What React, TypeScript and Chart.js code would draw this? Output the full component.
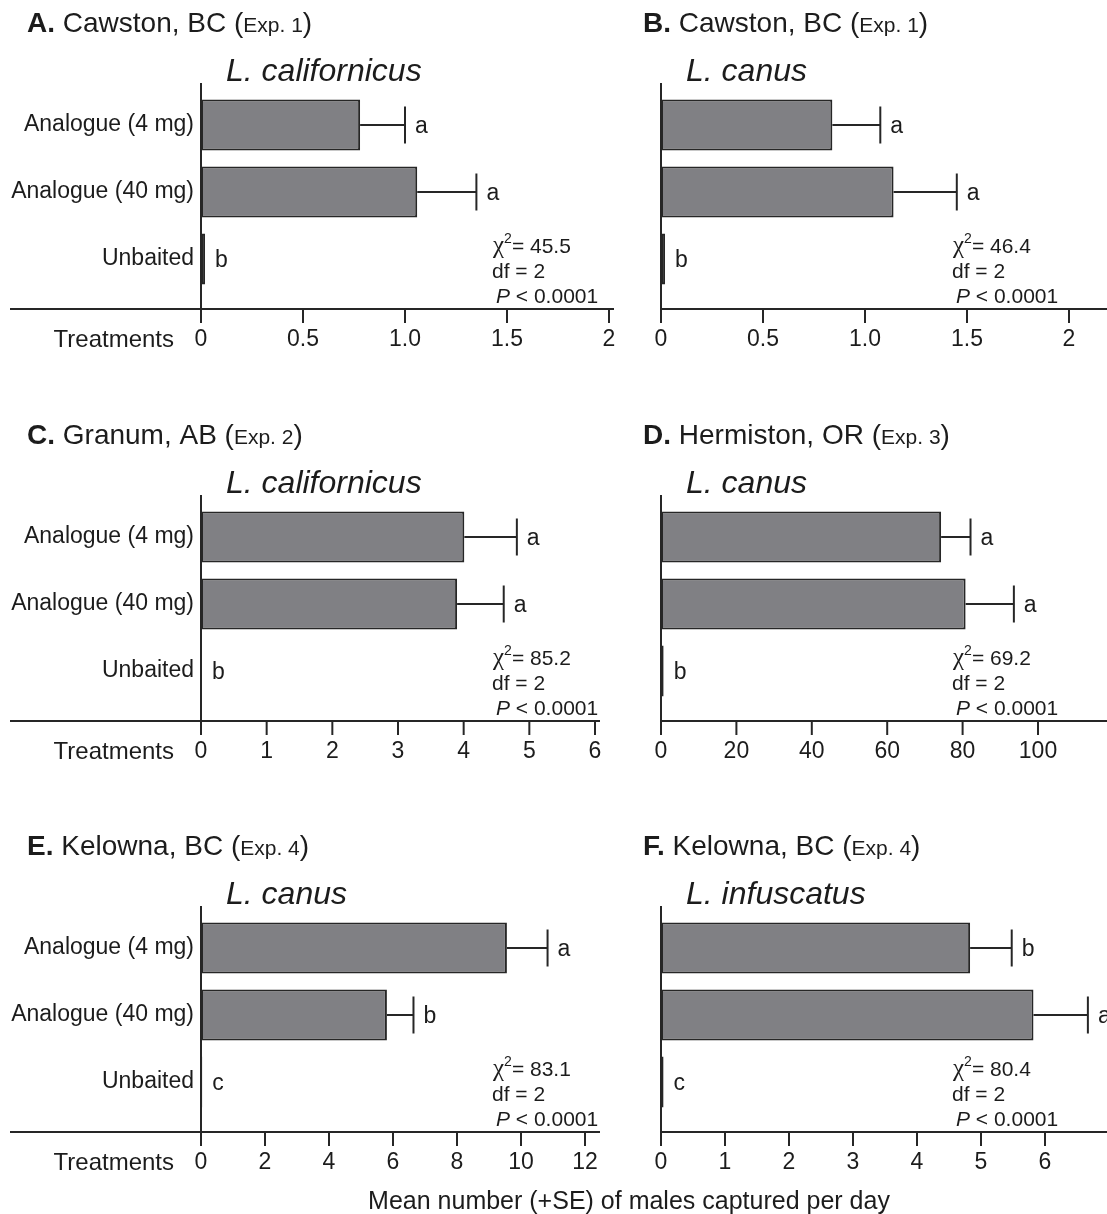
import { useEffect, useRef } from 'react';
import { Chart, registerables } from 'chart.js';

Chart.register(...registerables);

// ---------- data ----------
const treatments = ['Analogue (4 mg)', 'Analogue (40 mg)', 'Unbaited'];

// A. Cawston, BC (Exp. 1) – L. californicus
const meansA = [0.78, 1.06, 0.02];
const seA = [0.22, 0.29, 0];
const lettersA = ['a', 'a', 'b'];
const ticksA = ['0', '0.5', '1.0', '1.5', '2'];
const chiA = '45.5';

// B. Cawston, BC (Exp. 1) – L. canus
const meansB = [0.84, 1.14, 0.02];
const seB = [0.235, 0.31, 0];
const lettersB = ['a', 'a', 'b'];
const ticksB = ['0', '0.5', '1.0', '1.5', '2'];
const chiB = '46.4';

// C. Granum, AB (Exp. 2) – L. californicus
const meansC = [4.01, 3.9, 0.015];
const seC = [0.8, 0.71, 0];
const lettersC = ['a', 'a', 'b'];
const ticksC = ['0', '1', '2', '3', '4', '5', '6'];
const chiC = '85.2';

// D. Hermiston, OR (Exp. 3) – L. canus
const meansD = [74.3, 80.8, 0.7];
const seD = [7.8, 12.8, 0];
const lettersD = ['a', 'a', 'b'];
const ticksD = ['0', '20', '40', '60', '80', '100'];
const chiD = '69.2';

// E. Kelowna, BC (Exp. 4) – L. canus
const meansE = [9.56, 5.81, 0.04];
const seE = [1.27, 0.83, 0];
const lettersE = ['a', 'b', 'c'];
const ticksE = ['0', '2', '4', '6', '8', '10', '12'];
const chiE = '83.1';

// F. Kelowna, BC (Exp. 4) – L. infuscatus
const meansF = [4.83, 5.82, 0.04];
const seF = [0.65, 0.85, 0];
const lettersF = ['b', 'a', 'c'];
const ticksF = ['0', '1', '2', '3', '4', '5', '6'];
const chiF = '80.4';

const dfText = '2';
const pText = '0.0001';
const xAxisTitle = 'Mean number (+SE) of males captured per day';
const yAxisTitle = 'Treatments';

// ---------- styling / layout ----------
const SANS = '"Liberation Sans", Arial, Helvetica, sans-serif';
const SERIF = '"Liberation Serif", "Times New Roman", serif';
const INK = '#262626';
const TEXT = '#1c1c1c';
const BAR_FILL = '#808084';

const COL_X = [0, 630];
const COL_W = [630, 477];
const AXIS_X = [201, 661];
const TITLE_X = [27, 643];
const ROW_Y = [0, 412, 823];
const ROW_H = [412, 412, 391];

const AREA_TOP = 91.5;
const AREA_BOTTOM = 292.5;
const YAXIS_TOP = 83;
const XAXIS_Y = 309;
const X_SCALE_H = 70;
const TICK_LABEL_Y = 340;
const TICK_FONT = 23;

type Panel = {
  tag: string;
  site: string;
  exp: string;
  species: string;
  means: number[];
  se: number[];
  letters: string[];
  ticks: string[];
  max: number;
  step: number;
  chi: string;
  col: number;
  row: number;
  plotRight: number;
  axisEnd: number;
};

const panels: Panel[] = [
  { tag: 'A.', site: ' Cawston, BC ', exp: 'Exp. 1', species: 'L. californicus', means: meansA, se: seA, letters: lettersA, ticks: ticksA, max: 2, step: 0.5, chi: chiA, col: 0, row: 0, plotRight: 609, axisEnd: 614 },
  { tag: 'B.', site: ' Cawston, BC ', exp: 'Exp. 1', species: 'L. canus', means: meansB, se: seB, letters: lettersB, ticks: ticksB, max: 2, step: 0.5, chi: chiB, col: 1, row: 0, plotRight: 1069, axisEnd: 1107 },
  { tag: 'C.', site: ' Granum, AB ', exp: 'Exp. 2', species: 'L. californicus', means: meansC, se: seC, letters: lettersC, ticks: ticksC, max: 6, step: 1, chi: chiC, col: 0, row: 1, plotRight: 595, axisEnd: 600 },
  { tag: 'D.', site: ' Hermiston, OR ', exp: 'Exp. 3', species: 'L. canus', means: meansD, se: seD, letters: lettersD, ticks: ticksD, max: 100, step: 20, chi: chiD, col: 1, row: 1, plotRight: 1038, axisEnd: 1107 },
  { tag: 'E.', site: ' Kelowna, BC ', exp: 'Exp. 4', species: 'L. canus', means: meansE, se: seE, letters: lettersE, ticks: ticksE, max: 12, step: 2, chi: chiE, col: 0, row: 2, plotRight: 585, axisEnd: 600 },
  { tag: 'F.', site: ' Kelowna, BC ', exp: 'Exp. 4', species: 'L. infuscatus', means: meansF, se: seF, letters: lettersF, ticks: ticksF, max: 6, step: 1, chi: chiF, col: 1, row: 2, plotRight: 1045, axisEnd: 1107 },
];

function font(size: number, style = '', family = SANS) {
  return `${style} ${size}px ${family}`.trim();
}

function PanelChart({ p }: { p: Panel }) {
  const ref = useRef<HTMLCanvasElement | null>(null);

  useEffect(() => {
    const canvas = ref.current;
    if (!canvas) return;
    const cx = COL_X[p.col];
    const cw = COL_W[p.col];
    const ch = ROW_H[p.row];
    const axisPx = AXIS_X[p.col] - cx;
    const showCategories = p.col === 0;

    const decor = {
      id: 'panelDecor',
      afterDraw(chart: any) {
        const ctx: CanvasRenderingContext2D = chart.ctx;
        const xs = chart.scales.x;
        const ys = chart.scales.y;
        const ax = chart.chartArea.left;
        const line = (x1: number, y1: number, x2: number, y2: number) => {
          ctx.beginPath();
          ctx.moveTo(x1, y1);
          ctx.lineTo(x2, y2);
          ctx.stroke();
        };

        ctx.save();
        ctx.strokeStyle = INK;
        ctx.lineWidth = 2;
        ctx.lineCap = 'butt';

        // axes
        line(ax, YAXIS_TOP, ax, XAXIS_Y + 1);
        const xStart = p.col === 0 ? 10 - cx : ax - 1;
        line(xStart, XAXIS_Y, p.axisEnd - cx, XAXIS_Y);
        xs.ticks.forEach((t: any) => {
          const px = xs.getPixelForValue(t.value);
          line(px, XAXIS_Y, px, XAXIS_Y + 14);
        });

        // error bars and significance letters
        ctx.fillStyle = TEXT;
        ctx.font = font(23);
        ctx.textAlign = 'left';
        ctx.textBaseline = 'middle';
        p.means.forEach((m, i) => {
          const yc = ys.getPixelForValue(i);
          const xb = xs.getPixelForValue(m);
          let xe = xb;
          if (p.se[i] > 0) {
            xe = xs.getPixelForValue(m + p.se[i]);
            line(xb, yc, xe, yc);
            line(xe, yc - 18.5, xe, yc + 18.5);
          }
          ctx.fillText(p.letters[i], xe + 10, yc + 2);
        });

        // panel heading
        ctx.textBaseline = 'alphabetic';
        let tx = TITLE_X[p.col] - cx;
        const ty = 32;
        const parts: [string, string][] = [
          [p.tag, font(28, 'bold')],
          [p.site, font(28)],
          ['(', font(28)],
          [p.exp, font(21)],
          [')', font(28)],
        ];
        parts.forEach(([s, f]) => {
          ctx.font = f;
          ctx.fillText(s, tx, ty);
          tx += ctx.measureText(s).width;
        });

        // species name
        ctx.font = font(32, 'italic');
        ctx.fillText(p.species, axisPx + 25, 81);

        // test statistics
        const sx = axisPx + 292;
        ctx.font = font(25, '', SERIF);
        ctx.fillText('\u03c7', sx, 252.5);
        let w = ctx.measureText('\u03c7').width;
        ctx.font = font(14);
        ctx.fillText('2', sx + w, 243);
        w += ctx.measureText('2').width;
        ctx.font = font(21);
        ctx.fillText(`= ${p.chi}`, sx + w, 252.5);
        ctx.fillText(`df = ${dfText}`, sx - 1, 277.5);
        ctx.font = font(21, 'italic');
        ctx.fillText('P', sx + 3, 302.5);
        const pw = ctx.measureText('P').width;
        ctx.font = font(21);
        ctx.fillText(` < ${pText}`, sx + 3 + pw, 302.5);

        // y-axis caption beside the x tick labels
        if (p.col === 0) {
          ctx.font = font(24);
          ctx.textAlign = 'right';
          ctx.textBaseline = 'middle';
          ctx.fillText(yAxisTitle, 174, TICK_LABEL_Y);
        }
        ctx.restore();
      },
    };

    const chart = new Chart(canvas, {
      type: 'bar',
      data: {
        labels: treatments,
        datasets: [
          {
            data: p.means,
            backgroundColor: BAR_FILL,
            borderColor: INK,
            borderWidth: 2,
            borderSkipped: false,
            barPercentage: 0.76,
            categoryPercentage: 1,
          },
        ],
      },
      options: {
        indexAxis: 'y',
        responsive: false,
        animation: false,
        events: [],
        layout: {
          padding: {
            left: 0,
            top: AREA_TOP,
            right: cw - (p.plotRight - cx),
            bottom: ch - AREA_BOTTOM - X_SCALE_H,
          },
        },
        plugins: {
          legend: { display: false },
          tooltip: { enabled: false },
          title: { display: false },
        },
        scales: {
          y: {
            type: 'category',
            display: showCategories,
            offset: true,
            grid: { display: false, drawTicks: false },
            border: { display: false },
            ticks: {
              padding: 7,
              color: TEXT,
              font: { family: SANS, size: 23 },
            },
            afterFit: (s: any) => {
              s.width = axisPx;
            },
          },
          x: {
            type: 'linear',
            min: 0,
            max: p.max,
            grid: { display: false, drawTicks: false },
            border: { display: false },
            ticks: {
              stepSize: p.step,
              autoSkip: false,
              maxRotation: 0,
              padding: 0,
              color: TEXT,
              font: {
                family: SANS,
                size: TICK_FONT,
                lineHeight: (2 * (TICK_LABEL_Y - AREA_BOTTOM)) / TICK_FONT,
              },
              callback: (_v: any, i: number) => p.ticks[i],
            },
            afterFit: (s: any) => {
              s.height = X_SCALE_H;
            },
          },
        },
      } as any,
      plugins: [decor],
    });

    return () => chart.destroy();
  }, [p]);

  return (
    <canvas
      ref={ref}
      width={COL_W[p.col]}
      height={ROW_H[p.row]}
      style={{
        position: 'absolute',
        left: COL_X[p.col],
        top: ROW_Y[p.row],
        width: COL_W[p.col],
        height: ROW_H[p.row],
      }}
    />
  );
}

export default function App() {
  return (
    <div
      style={{
        position: 'absolute',
        left: 0,
        top: 0,
        width: 1107,
        height: 1214,
        overflow: 'hidden',
        background: '#ffffff',
      }}
    >
      {panels.map((p) => (
        <PanelChart key={p.tag} p={p} />
      ))}
      <div
        style={{
          position: 'absolute',
          left: 629,
          top: 1185,
          transform: 'translateX(-50%)',
          whiteSpace: 'nowrap',
          font: `25px ${SANS}`,
          lineHeight: '30px',
          color: TEXT,
        }}
      >
        {xAxisTitle}
      </div>
    </div>
  );
}
